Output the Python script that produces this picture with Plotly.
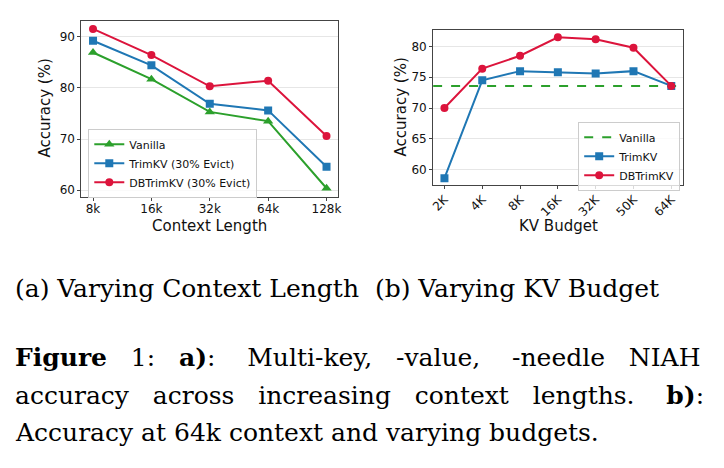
import plotly.graph_objects as go

# ---- data ----
ctx_labels = ["8k", "16k", "32k", "64k", "128k"]
ctx_vanilla = [86.9, 81.7, 75.3, 73.5, 60.4]
ctx_trimkv = [89.2, 84.4, 76.9, 75.6, 64.6]
ctx_dbtrimkv = [91.5, 86.4, 80.3, 81.4, 70.6]

budget_labels = ["2K", "4K", "8K", "16K", "32K", "50K", "64K"]
budget_vanilla = 73.6
budget_trimkv = [58.6, 74.5, 76.0, 75.8, 75.6, 76.0, 73.6]
budget_dbtrimkv = [70.0, 76.4, 78.5, 81.5, 81.2, 79.8, 73.6]

subcaption = "(a) Varying Context Length  (b) Varying KV Budget"
# words of each caption line and the number of spaces after each word (justified text)
caption_words = [
    (["<b>Figure</b>", "1:", "<b>a)</b>:", "Multi-key,", "-value,", "-needle", "NIAH"], [3, 3, 4, 3, 4, 3]),
    (["accuracy", "across", "increasing", "context", "lengths.", "<b>b)</b>:"], [3, 3, 3, 3, 4]),
    (["Accuracy", "at", "64k", "context", "and", "varying", "budgets."], [1, 1, 1, 1, 1, 1]),
]

GREEN = "#2ca02c"
BLUE = "#1f77b4"
RED = "#dc143c"
W, H = 724, 468

def px(x):
    return x / W

def py(y):
    return 1 - y / H

fig = go.Figure()

# left panel
xi = list(range(len(ctx_labels)))
fig.add_trace(go.Scatter(x=xi, y=ctx_vanilla, name="Vanilla",
                         mode="lines+markers", line=dict(color=GREEN, width=2),
                         marker=dict(symbol="triangle-up", size=9, color=GREEN),
                         xaxis="x", yaxis="y", legend="legend"))
fig.add_trace(go.Scatter(x=xi, y=ctx_trimkv, name="TrimKV (30% Evict)",
                         mode="lines+markers", line=dict(color=BLUE, width=2),
                         marker=dict(symbol="square", size=8, color=BLUE),
                         xaxis="x", yaxis="y", legend="legend"))
fig.add_trace(go.Scatter(x=xi, y=ctx_dbtrimkv, name="DBTrimKV (30% Evict)",
                         mode="lines+markers", line=dict(color=RED, width=2),
                         marker=dict(symbol="circle", size=8, color=RED),
                         xaxis="x", yaxis="y", legend="legend"))

# right panel
nb = len(budget_labels)
bi = list(range(nb))
fig.add_trace(go.Scatter(x=[-0.3, nb - 1 + 0.3], y=[budget_vanilla, budget_vanilla], name="Vanilla",
                         mode="lines", line=dict(color=GREEN, width=2, dash="dash"),
                         xaxis="x2", yaxis="y2", legend="legend2"))
fig.add_trace(go.Scatter(x=bi, y=budget_trimkv, name="TrimKV",
                         mode="lines+markers", line=dict(color=BLUE, width=2),
                         marker=dict(symbol="square", size=8, color=BLUE),
                         xaxis="x2", yaxis="y2", legend="legend2"))
fig.add_trace(go.Scatter(x=bi, y=budget_dbtrimkv, name="DBTrimKV",
                         mode="lines+markers", line=dict(color=RED, width=2),
                         marker=dict(symbol="circle", size=8, color=RED),
                         xaxis="x2", yaxis="y2", legend="legend2"))

axis_common = dict(showline=True, mirror=True, linecolor="#444", linewidth=1,
                   ticks="outside", ticklen=3, tickcolor="#444", zeroline=False,
                   tickfont=dict(family="DejaVu Sans", size=12, color="#111"))

fig.update_layout(
    width=W, height=H, margin=dict(l=0, r=0, t=0, b=0),
    paper_bgcolor="white", plot_bgcolor="white",
    font=dict(family="DejaVu Sans", color="#111"),
    xaxis=dict(domain=[px(79), px(338)], range=[-0.2, 4.2], tickmode="array",
               tickvals=xi, ticktext=ctx_labels, ticklabelstandoff=-2,
               showgrid=False, anchor="y", **axis_common),
    yaxis=dict(domain=[py(197), py(21)], range=[58.77, 93.06], tickvals=[60, 70, 80, 90],
               showgrid=True, gridcolor="#e6e6e6", anchor="x", **axis_common),
    xaxis2=dict(domain=[px(433.7), px(685.3)], range=[-0.3, nb - 1 + 0.3], tickmode="array",
                tickvals=bi, ticktext=budget_labels, tickangle=-45, ticklabelstandoff=-1,
                showgrid=False, anchor="y2", **axis_common),
    yaxis2=dict(domain=[py(185.3), py(30)], range=[57.5, 82.7], tickvals=[60, 65, 70, 75, 80],
                showgrid=True, gridcolor="#e6e6e6", anchor="x2", **axis_common),
    legend=dict(x=px(86), y=py(129), xanchor="left", yanchor="top",
                bgcolor="rgba(255,255,255,0.8)", bordercolor="#cccccc", borderwidth=1,
                font=dict(family="DejaVu Sans", size=11, color="#111"), tracegroupgap=0),
    legend2=dict(x=px(580), y=py(122), xanchor="left", yanchor="top",
                 bgcolor="rgba(255,255,255,0.8)", bordercolor="#cccccc", borderwidth=1,
                 font=dict(family="DejaVu Sans", size=11, color="#111"), tracegroupgap=0),
    showlegend=True,
)

ann = []
# axis titles
ann.append(dict(text="Accuracy (%)", x=px(42), y=py(108), textangle=-90,
                font=dict(family="DejaVu Sans", size=15, color="#111")))
ann.append(dict(text="Context Length", x=px(208), y=py(226),
                font=dict(family="DejaVu Sans", size=15, color="#111")))
ann.append(dict(text="Accuracy (%)", x=px(401), y=py(107), textangle=-90,
                font=dict(family="DejaVu Sans", size=15, color="#111")))
ann.append(dict(text="KV Budget", x=px(560), y=py(226),
                font=dict(family="DejaVu Sans", size=15, color="#111")))

# captions
SERIF = "DejaVu Serif"
cap_font = dict(family=SERIF, size=25, color="#000")
NBSP = "\u00a0"
ann.append(dict(text=subcaption.replace(" ", NBSP), x=px(10), y=py(289), xanchor="left", font=cap_font))

line_y = [358, 396, 433]
for (words, gaps), yv in zip(caption_words, line_y):
    txt = ""
    for i, w in enumerate(words):
        txt += w
        if i < len(gaps):
            txt += NBSP * gaps[i]
    ann.append(dict(text=txt, x=px(10), y=py(yv), xanchor="left", font=cap_font))

for a in ann:
    a.setdefault("xref", "paper")
    a.setdefault("yref", "paper")
    a.setdefault("showarrow", False)
    a.setdefault("xanchor", "center")
    a.setdefault("yanchor", "middle")
fig.update_layout(annotations=ann)

fig.write_html("out.html")
